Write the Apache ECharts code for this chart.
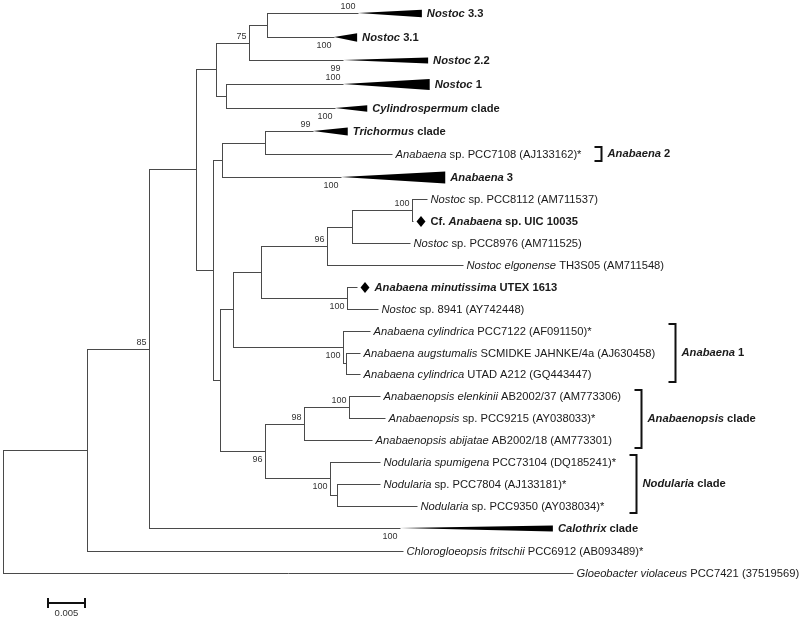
<!DOCTYPE html>
<html><head><meta charset="utf-8">
<script src="https://cdn.jsdelivr.net/npm/echarts@6/dist/echarts.min.js"></script>
<style>html,body{margin:0;padding:0;background:#fff}#c{width:800px;height:620px}</style>
</head><body><div id="c"></div>
<script>
// ---------- data ----------
// leaf labels, top to bottom; text between underscores is italic
const leafLabels = [
  '_Nostoc_ 3.3', '_Nostoc_ 3.1', '_Nostoc_ 2.2', '_Nostoc_ 1', '_Cylindrospermum_ clade',
  '_Trichormus_ clade', '_Anabaena_ sp. PCC7108 (AJ133162)*', '_Anabaena_ 3',
  '_Nostoc_ sp. PCC8112 (AM711537)', 'Cf. _Anabaena_ sp. UIC 10035', '_Nostoc_ sp. PCC8976 (AM711525)',
  '_Nostoc elgonense_ TH3S05 (AM711548)', '_Anabaena minutissima_ UTEX 1613', '_Nostoc_ sp. 8941 (AY742448)',
  '_Anabaena cylindrica_ PCC7122 (AF091150)*', '_Anabaena augstumalis_ SCMIDKE JAHNKE/4a (AJ630458)',
  '_Anabaena cylindrica_ UTAD A212 (GQ443447)', '_Anabaenopsis elenkinii_ AB2002/37 (AM773306)',
  '_Anabaenopsis_ sp. PCC9215 (AY038033)*', '_Anabaenopsis abijatae_ AB2002/18 (AM773301)',
  '_Nodularia spumigena_ PCC73104 (DQ185241)*', '_Nodularia_ sp. PCC7804 (AJ133181)*',
  '_Nodularia_ sp. PCC9350 (AY038034)*', '_Calothrix_ clade',
  '_Chlorogloeopsis fritschii_ PCC6912 (AB093489)*', '_Gloeobacter violaceus_ PCC7421 (37519569)'
];
// tree with branch lengths (substitutions/site); leaf names are indices into leafLabels, internal labels are bootstrap values
const newick = "((((" +
  "(((0:0.0117,1:0.0086):0.0023,2:0.0121)75:0.0042,(3:0.0150,4:0.0140):0.0013):0.0026," +
  "(((5:0.0061,6:0.0163):0.0055,7:0.0152):0.0012," +
  "((((((8:0.0020,9:0.0001)100:0.0077,10:0.0075):0.0032,11:0.0175)96:0.0084,(12:0.0013,13:0.0040)100:0.0110):0.0036," +
  "(14:0.0035,(15:0.0018,16:0.0018):0.0004)100:0.0141):0.0017," +
  "(((17:0.0039,18:0.0046)100:0.0058,19:0.0087)98:0.0050,(20:0.0064,(21:0.0055,22:0.0103):0.0009)100:0.0083)96:0.0058):0.0009):0.0022" +
  "):0.0060,23:0.0322)85:0.0079,24:0.0405):0.0108,25:0.0731);";
// collapsed clades: depth extent of the compressed subtree
const collapsedLeaf = [0, 1, 2, 3, 4, 5, 7, 23];
const collapsedSpan = [0.0082, 0.0030, 0.0109, 0.0111, 0.0041, 0.0045, 0.0134, 0.0196];
const collapsedSupport = [100, 100, 99, 100, 100, 99, 100, 100];
const boldLeaves = [0, 1, 2, 3, 4, 5, 7, 9, 12, 23];
const markedLeaves = [9, 12];
const groupNames = ['_Anabaena_ 2', '_Anabaena_ 1', '_Anabaenopsis_ clade', '_Nodularia_ clade'];
const groupFrom = [6, 14, 17, 20];
const groupTo = [6, 16, 19, 22];
const scaleBarValue = 0.005;

// ---------- styles / layout ----------
const FF = '"Liberation Sans", Arial, sans-serif';
const FS = 11.2;
const LINE = '#4a4a4a', TXT = '#1a1a1a';
const triHeight = {0: 7.5, 1: 8.5, 2: 6, 3: 11, 4: 6.5, 5: 8, 7: 12, 23: 6};
const bootBelow = ['1', '2', '4', '7', '23', '12-13', '14-16', '17-22', '20-22'];
const ROW_K = 1.08; // collapsed rows are slightly taller

// ---------- parse & layout ----------
function parseNewick(s) {
  let i = 0;
  function node() {
    const n = {kids: []};
    if (s[i] === '(') {
      i++; n.kids.push(node());
      while (s[i] === ',') { i++; n.kids.push(node()); }
      i++;
    }
    let name = '';
    while (i < s.length && !':,);'.includes(s[i])) name += s[i++];
    n.len = 0;
    if (s[i] === ':') { i++; let l = ''; while (i < s.length && !',);'.includes(s[i])) l += s[i++]; n.len = parseFloat(l); }
    if (n.kids.length) n.boot = name; else n.leaf = +name;
    return n;
  }
  return node();
}
const root = parseNewick(newick);
const rowPos = [];
leafLabels.forEach((_, i) => {
  const w = collapsedLeaf.includes(i) ? ROW_K : 1;
  if (i === 0) rowPos.push(0);
  else {
    const wp = collapsedLeaf.includes(i - 1) ? ROW_K : 1;
    rowPos.push(rowPos[i - 1] + (w + wp) / 2);
  }
});
const rowMax = rowPos[rowPos.length - 1];
function layout(n, d) {
  n.d = d + n.len;
  if (n.kids.length) {
    n.kids.forEach(k => layout(k, n.d));
    n.y = (n.kids[0].y + n.kids[n.kids.length - 1].y) / 2;
    n.first = n.kids[0].first; n.last = n.kids[n.kids.length - 1].last;
  } else { n.y = rowPos[n.leaf]; n.first = n.last = n.leaf; }
}
layout(root, 0);
root.len = 0;

const mctx = document.createElement('canvas').getContext('2d');
function textWidth(label, bold) {
  let w = 0;
  label.split('_').forEach((p, k) => {
    mctx.font = (k % 2 ? 'italic ' : '') + (bold ? 'bold ' : '') + FS + 'px ' + FF;
    w += mctx.measureText(p).width;
  });
  return w;
}
function richText(label, bold) {
  return label.split('_').map((p, k) => p ? '{' + (bold ? 'b' : '') + (k % 2 ? 'i' : 'n') + '|' + p + '}' : '').join('');
}
const base = {fontFamily: FF, fontSize: FS, fill: TXT};
const rich = {
  n: Object.assign({}, base),
  i: Object.assign({fontStyle: 'italic'}, base),
  bn: Object.assign({fontWeight: 'bold'}, base),
  bi: Object.assign({fontStyle: 'italic', fontWeight: 'bold'}, base)
};

function renderItem(params, api) {
  const ch = [];
  const X = d => api.coord([d, 0])[0];
  const Y = r => api.coord([0, r])[1];
  const cr = v => Math.round(v) + 0.5;
  const line = (x1, y1, x2, y2, w, c) => ch.push({type: 'line', shape: {x1, y1, x2, y2},
    style: {stroke: c || LINE, lineWidth: w || 1}});
  const boot = (txt, x, y, below) => ch.push({type: 'text', style: {text: String(txt), x: x - 3, y: y + (below ? 8.5 : -6.5),
    align: 'right', verticalAlign: 'middle', fontFamily: FF, fontSize: 9, fill: '#333'}});
  const leafRight = [];

  function draw(n, parentD) {
    const y = cr(Y(n.y));
    const x = X(n.d);
    if (n !== root) line(cr(X(parentD)), y, cr(x), y);
    if (n.kids.length) {
      line(cr(x), cr(Y(n.kids[0].y)) - 0.5, cr(x), cr(Y(n.kids[n.kids.length - 1].y)) + 0.5);
      if (n.boot) boot(n.boot, cr(x), y, bootBelow.includes(n.first + '-' + n.last));
      n.kids.forEach(k => draw(k, n.d));
      return;
    }
    const li = n.leaf;
    const bold = boldLeaves.includes(li);
    const ci = collapsedLeaf.indexOf(li);
    let tx;
    if (ci >= 0) {
      const xe = X(n.d + collapsedSpan[ci]);
      const h = triHeight[li] / 2;
      ch.push({type: 'polygon', shape: {points: [[cr(x) - 0.5, y - 0.5], [xe, y - h], [xe, y + h]]}, style: {fill: '#000'}});
      boot(collapsedSupport[ci], cr(x), y, bootBelow.includes(String(li)));
      tx = xe + 5;
    } else if (markedLeaves.includes(li)) {
      const cx = cr(x) + 7.5;
      ch.push({type: 'polygon', shape: {points: [[cx, y - 5.5], [cx + 4.5, y], [cx, y + 5.5], [cx - 4.5, y]]}, style: {fill: '#000'}});
      tx = cr(x) + 17;
    } else {
      tx = cr(x) + 3;
    }
    ch.push({type: 'text', style: {text: richText(leafLabels[li], bold), rich, x: tx, y: y,
      align: 'left', verticalAlign: 'middle', fontFamily: FF, fontSize: FS, fill: TXT}});
    leafRight[li] = tx + textWidth(leafLabels[li], bold);
  }
  draw(root, 0);

  // clade brackets
  groupNames.forEach((g, k) => {
    let mx = 0;
    for (let i = groupFrom[k]; i <= groupTo[k]; i++) mx = Math.max(mx, leafRight[i]);
    const bx = Math.round(mx + 20) + 0.5;
    const y1 = Math.round(Y(rowPos[groupFrom[k]]) - 6.5), y2 = Math.round(Y(rowPos[groupTo[k]]) + 7.5);
    ch.push({type: 'polyline', shape: {points: [[bx - 7, y1], [bx, y1], [bx, y2], [bx - 7, y2]]},
      style: {stroke: '#111', lineWidth: 2, fill: null}});
    ch.push({type: 'text', style: {text: richText(g, true), rich, x: bx + 6, y: (y1 + y2) / 2,
      align: 'left', verticalAlign: 'middle', fontFamily: FF, fontSize: FS, fill: TXT}});
  });

  // scale bar
  const len = X(scaleBarValue) - X(0);
  const sx = 47, sy = 603;
  line(sx, sy, sx + len, sy, 2, '#111');
  line(sx + 1, sy - 5, sx + 1, sy + 5, 2, '#111');
  line(sx + len - 1, sy - 5, sx + len - 1, sy + 5, 2, '#111');
  ch.push({type: 'text', style: {text: String(scaleBarValue), x: sx + len / 2, y: sy + 10, align: 'center',
    verticalAlign: 'middle', fontFamily: FF, fontSize: 9.5, fill: '#333'}});

  return {type: 'group', children: ch};
}

const chart = echarts.init(document.getElementById('c'), null, {renderer: 'canvas'});
chart.setOption({
  animation: false,
  backgroundColor: '#fff',
  grid: {left: 3, right: 17, top: 13, bottom: 47},
  xAxis: {type: 'value', min: 0, max: 0.1, show: false},
  yAxis: {type: 'value', min: 0, max: rowMax, inverse: true, show: false},
  series: [{type: 'custom', renderItem, data: [[0, 0]], silent: true, clip: false}]
});
</script></body></html>
